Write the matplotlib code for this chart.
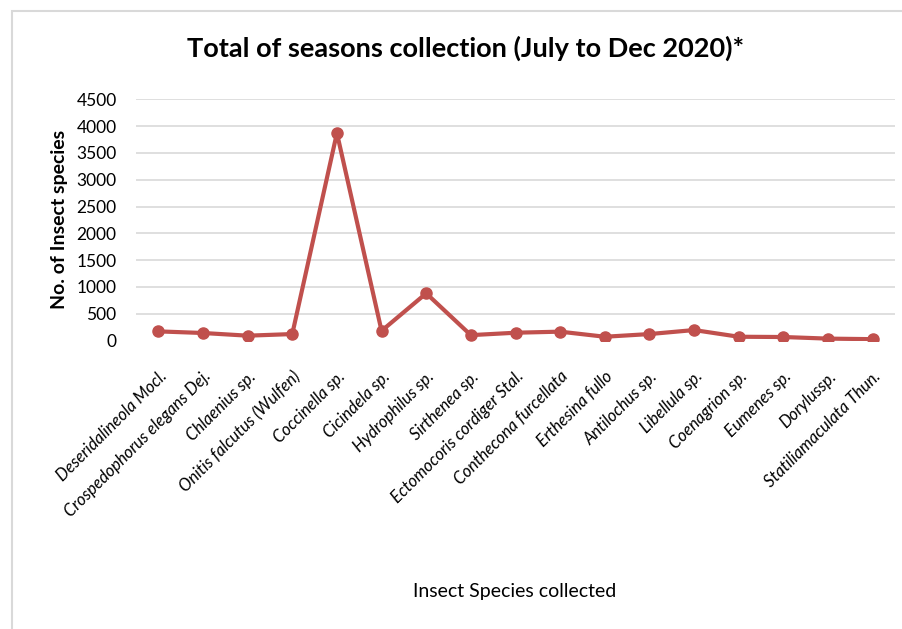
import numpy as np
import matplotlib.pyplot as plt
from matplotlib.patches import Rectangle

plt.rcParams['font.family'] = ['Lato', 'DejaVu Sans']

# data
species = ['Deseridalineola Mocl.', 'Crospedophorus elegans Dej.', 'Chlaenius sp.',
           'Onitis falcutus (Wulfen)', 'Coccinella sp.', 'Cicindela sp.',
           'Hydrophilus sp.', 'Sirthenea sp.', 'Ectomocoris cordiger Stal.',
           'Contheconа furcellata', 'Erthesina fullo', 'Antilochus sp.',
           'Libellula sp.', 'Coenagrion sp.', 'Eumenes sp.', 'Dorylussp.',
           'Statiliamaculata Thun.']
counts = [170, 140, 90, 120, 3870, 180, 880, 100, 145, 165, 70, 120, 195, 70, 65, 35, 25]

fig = plt.figure(figsize=(9.03, 6.29), dpi=100)
ax = fig.add_axes([136 / 903, 1 - 340.5 / 629, 759 / 903, 241.2 / 629])

x = np.arange(len(species))
ax.plot(x, counts, color='#C0504D', lw=3, marker='o', ms=8, zorder=3)

ax.set_xlim(-0.5, len(species) - 0.5)
ax.set_ylim(0, 4500)
ax.set_yticks(np.arange(0, 4501, 500))
ax.yaxis.grid(True, color='#D9D9D9', lw=1.2)
ax.get_ygridlines()[0].set_visible(False)
for s in ax.spines.values():
    s.set_visible(False)
ax.tick_params(length=0)
ax.tick_params(axis='y', labelsize=12.5, pad=14)
ax.set_xticks(x)
ax.set_xticklabels([s.replace('а', 'a') for s in species], rotation=45, ha='right',
                   va='top', rotation_mode='anchor', fontsize=12, style='italic')
ax.tick_params(axis='x', pad=20)

ax.set_ylabel('No. of Insect species', fontsize=14, fontweight='bold', labelpad=6)
fig.text(515 / 903, 1 - 591 / 629, 'Insect Species collected', fontsize=14,
         ha='center', va='center')
fig.text(466 / 903, 1 - 48 / 629, 'Total of seasons collection (July to Dec 2020)*',
         fontsize=19.5, fontweight='bold', ha='center', va='center')

# outer chart frame
fig.patches.append(Rectangle((12 / 903, -0.1), 1.1, 1.1 - 11 / 629, transform=fig.transFigure,
                             fill=False, ec='#D9D9D9', lw=1.5))

fig.savefig('out.png', dpi=100)
